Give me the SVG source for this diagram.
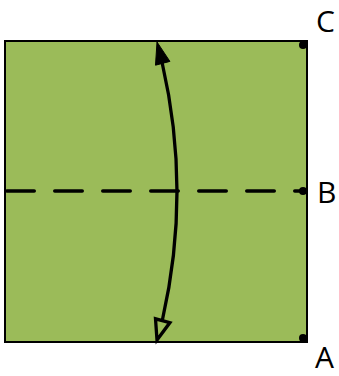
<svg xmlns="http://www.w3.org/2000/svg" width="339" height="376" viewBox="0 0 339 376">
<style>
.lbl{font-family:"Open Sans","Liberation Sans",sans-serif;font-size:30px;fill:#000}
.dot{fill:#000}
</style>
<rect width="339" height="376" fill="#fff"/>
<g id="square">
<rect x="5" y="41" width="302" height="301" fill="#9BBB59" stroke="#000" stroke-width="2"/>
</g>
<g id="connectors">
<line x1="6.75" y1="191" x2="303" y2="191" stroke="#000" stroke-width="3.5" stroke-linecap="round" stroke-dasharray="27.5 20.5"/>
<path d="M162.2,63 Q191.7,191.5 162.4,320" fill="none" stroke="#000" stroke-width="3.3"/>
<polygon points="157,42 169.9,61.4 155.5,65.2" fill="#000" stroke="#000" stroke-width="1" stroke-linejoin="miter"/>
<polygon points="157,340 169.9,322.6 155.5,318.8" fill="none" stroke="#000" stroke-width="3.3" stroke-linejoin="miter"/>
</g>
<g id="C"><circle class="dot" cx="303" cy="45" r="4"/><text class="lbl" x="316" y="32">C</text></g>
<g id="B"><circle class="dot" cx="303" cy="191" r="4"/><text class="lbl" x="317" y="203">B</text></g>
<g id="A"><circle class="dot" cx="303" cy="338" r="4"/><text class="lbl" x="315" y="368">A</text></g>
</svg>
